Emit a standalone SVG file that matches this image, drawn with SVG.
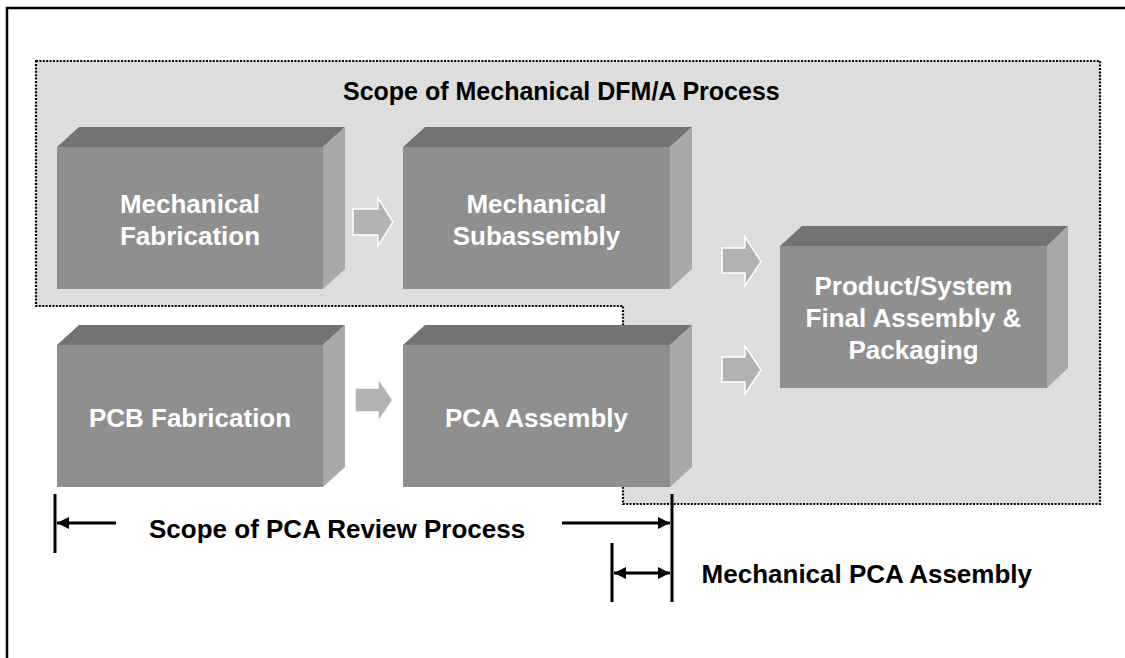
<svg xmlns="http://www.w3.org/2000/svg" width="1125" height="658" viewBox="0 0 1125 658">
  <defs>
    <style>
      .frame { fill: none; stroke: #000; stroke-width: 2.5; }
      .scope { fill: #dddddd; stroke: #000; stroke-width: 2.2; stroke-dasharray: 2 1.4; }
      .top { fill: #737373; }
      .front { fill: #8f8f8f; }
      .side { fill: #a9a9a9; }
      .lbl { font-family: "Liberation Sans", Arial, sans-serif; font-weight: bold; font-size: 26px; fill: #fff; text-anchor: middle; }
      .cap { font-family: "Liberation Sans", Arial, sans-serif; font-weight: bold; font-size: 26px; fill: #000; }
      .flow { fill: #b2b2b2; stroke: #fff; stroke-width: 1.5; }
      .dim { stroke: #000; stroke-width: 3; fill: none; }
    </style>
    <marker id="head" viewBox="0 0 10 10" refX="10" refY="5" markerWidth="4" markerHeight="4" orient="auto-start-reverse" markerUnits="strokeWidth">
      <path d="M0,0 L10,5 L0,10 z" fill="#000"/>
    </marker>
  </defs>

  <path class="frame" d="M7,660 V8 H1130"/>

  <!-- Mechanical DFM/A scope region -->
  <g id="mech-scope">
    <path class="scope" d="M36,61 H1100 V504 H623 V306 H36 Z"/>
    <text class="cap" x="343" y="100" style="font-size:25px">Scope of Mechanical DFM/A Process</text>
  </g>

  <g id="mech-fab">
    <polygon class="top" points="57,147 79,127 345,127 323,147"/>
    <polygon class="side" points="323,147 345,127 345,269 323,289"/>
    <rect class="front" x="57" y="147" width="266" height="142"/>
    <text class="lbl" x="190" y="213">Mechanical</text>
    <text class="lbl" x="190" y="245">Fabrication</text>
  </g>

  <g id="mech-sub">
    <polygon class="top" points="403,147 425,127 692,127 670,147"/>
    <polygon class="side" points="670,147 692,127 692,269 670,289"/>
    <rect class="front" x="403" y="147" width="267" height="142"/>
    <text class="lbl" x="536.5" y="213">Mechanical</text>
    <text class="lbl" x="536.5" y="245">Subassembly</text>
  </g>

  <g id="pcb-fab">
    <polygon class="top" points="57,345 79,325 345,325 323,345"/>
    <polygon class="side" points="323,345 345,325 345,467 323,487"/>
    <rect class="front" x="57" y="345" width="266" height="142"/>
    <text class="lbl" x="190" y="427">PCB Fabrication</text>
  </g>

  <g id="pca-asm">
    <polygon class="top" points="403,345 425,325 692,325 670,345"/>
    <polygon class="side" points="670,345 692,325 692,467 670,487"/>
    <rect class="front" x="403" y="345" width="267" height="142"/>
    <text class="lbl" x="536.5" y="427">PCA Assembly</text>
  </g>

  <g id="final-asm">
    <polygon class="top" points="780,246 802,226 1068,226 1047,246"/>
    <polygon class="side" points="1047,246 1068,226 1068,368 1047,388"/>
    <rect class="front" x="780" y="246" width="267" height="142"/>
    <text class="lbl" x="913.5" y="295">Product/System</text>
    <text class="lbl" x="913.5" y="327">Final Assembly &amp;</text>
    <text class="lbl" x="913.5" y="359">Packaging</text>
  </g>

  <!-- Flow arrows and scope dimension lines -->
  <g id="connectors">
    <polygon class="flow" points="353,209 378,209 378,198 393,222 378,246 378,235 353,235"/>
    <polygon class="flow" points="355,388 378,388 378,378 393,400 378,422 378,412 355,412"/>
    <polygon class="flow" points="722,248 745,248 745,237 761,261.5 745,286 745,273 722,273"/>
    <polygon class="flow" points="722,357 745,357 745,346 761,370 745,394 745,382 722,382"/>

    <line class="dim" x1="55" y1="494" x2="55" y2="553"/>
    <line class="dim" x1="116" y1="523" x2="57" y2="523" marker-end="url(#head)"/>
    <line class="dim" x1="672" y1="494" x2="672" y2="602"/>
    <line class="dim" x1="562" y1="523" x2="670" y2="523" marker-end="url(#head)"/>
    <line class="dim" x1="612" y1="543" x2="612" y2="602"/>
    <line class="dim" x1="614" y1="573" x2="670" y2="573" marker-start="url(#head)" marker-end="url(#head)"/>

    <text class="cap" x="149" y="538">Scope of PCA Review Process</text>
    <text class="cap" x="1032" y="583" text-anchor="end">Mechanical PCA Assembly</text>
  </g>
</svg>
